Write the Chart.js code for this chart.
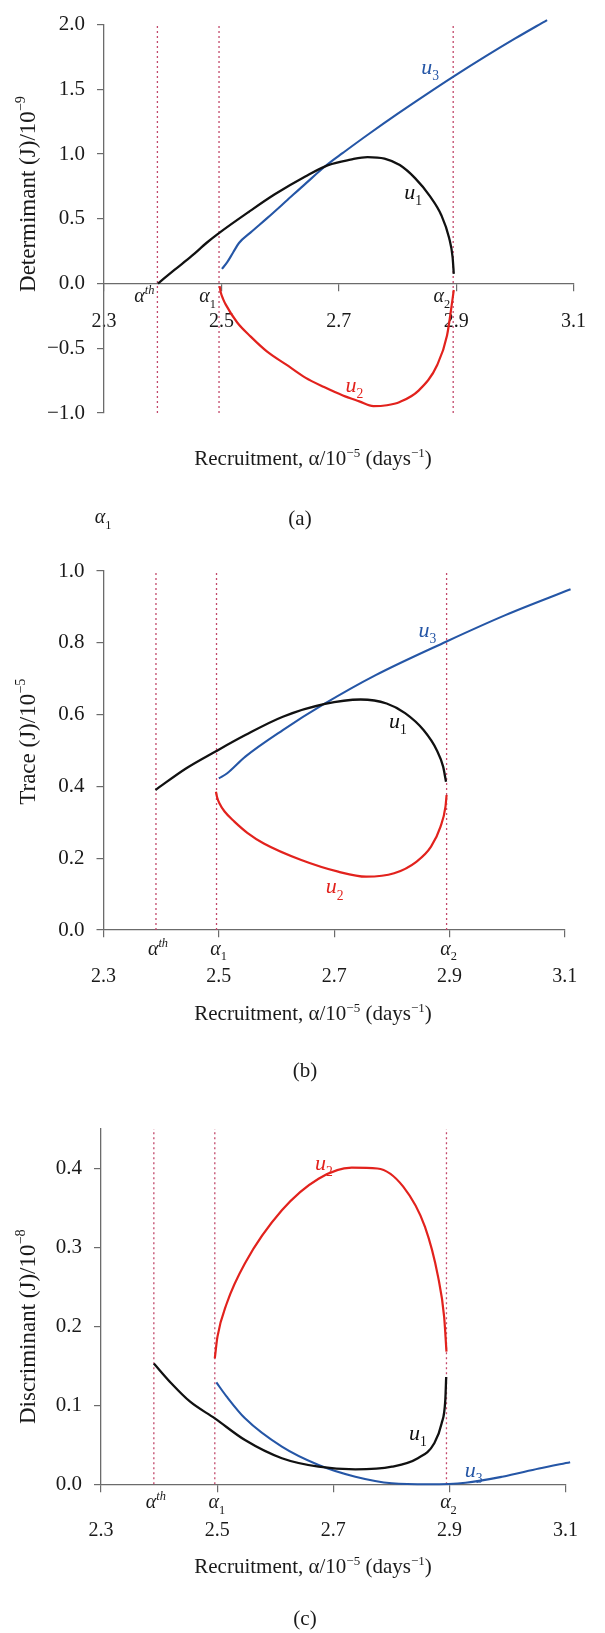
<!DOCTYPE html>
<html>
<head>
<meta charset="utf-8">
<script src="https://cdn.jsdelivr.net/npm/chart.js@4.4.1/dist/chart.umd.min.js"></script>
<style>
  html, body { margin: 0; padding: 0; background: #fff; }
  #pagina { position: relative; width: 605px; height: 1633px; background: #fff; }
  canvas { position: absolute; left: 0; }
</style>
</head>
<body>
<div id="pagina">
  <canvas id="graficoDet" width="605" height="540" style="top:0px"></canvas>
  <canvas id="graficoTrace" width="605" height="545" style="top:540px"></canvas>
  <canvas id="graficoDisc" width="605" height="548" style="top:1085px"></canvas>
</div>
<script>
// Eixo x comum (recrutamento, alpha/10^-5)
const xTicks = [2.3, 2.5, 2.7, 2.9, 3.1];
// alpha_th, alpha_1, alpha_2 (linhas pontilhadas)
const alphaMarcas = [2.391, 2.496, 2.895];

// --- (a) Determinante ---
const detYTicks = [-1.0, -0.5, 0.0, 0.5, 1.0, 1.5, 2.0];
const detU1Alpha = [2.392, 2.42, 2.45, 2.475, 2.497, 2.546, 2.591, 2.643, 2.682, 2.72, 2.749, 2.778, 2.804, 2.83, 2.855, 2.875, 2.888, 2.894, 2.896];
const detU1Val = [0.0, 0.105, 0.215, 0.315, 0.393, 0.551, 0.689, 0.827, 0.915, 0.957, 0.977, 0.965, 0.915, 0.814, 0.677, 0.526, 0.353, 0.203, 0.075];
const detU2Alpha = [2.497, 2.499, 2.503, 2.5075, 2.527, 2.55, 2.578, 2.61, 2.643, 2.675, 2.707, 2.735, 2.759, 2.782, 2.804, 2.836, 2.868, 2.8845, 2.893, 2.896];
const detU2Val = [-0.02, -0.07, -0.12, -0.163, -0.301, -0.41, -0.526, -0.625, -0.727, -0.80, -0.865, -0.91, -0.947, -0.94, -0.915, -0.827, -0.627, -0.401, -0.15, -0.05];
const detU3Alpha = [2.501, 2.51, 2.52, 2.53, 2.55, 2.578, 2.61, 2.643, 2.682, 2.707, 2.75, 2.80, 2.85, 2.896, 2.95, 3.0, 3.055];
const detU3Val = [0.113, 0.165, 0.24, 0.313, 0.395, 0.505, 0.635, 0.77, 0.925, 1.009, 1.151, 1.31, 1.463, 1.60, 1.754, 1.891, 2.035];

// --- (b) Traço ---
const trYTicks = [0.0, 0.2, 0.4, 0.6, 0.8, 1.0];
const trU1Alpha = [2.39, 2.443, 2.495, 2.546, 2.611, 2.682, 2.746, 2.791, 2.823, 2.855, 2.878, 2.889, 2.894];
const trU1Val = [0.39, 0.45, 0.498, 0.543, 0.594, 0.629, 0.642, 0.631, 0.604, 0.557, 0.501, 0.455, 0.413];
const trU2Alpha = [2.495, 2.497, 2.501, 2.51, 2.527, 2.55, 2.578, 2.643, 2.707, 2.7555, 2.804, 2.8425, 2.868, 2.8845, 2.893, 2.895];
const trU2Val = [0.385, 0.37, 0.353, 0.33, 0.302, 0.27, 0.241, 0.195, 0.1625, 0.1485, 0.158, 0.19, 0.232, 0.288, 0.343, 0.376];
const trU3Alpha = [2.5, 2.514, 2.546, 2.611, 2.682, 2.772, 2.894, 2.997, 3.11];
const trU3Val = [0.4225, 0.436, 0.483, 0.557, 0.629, 0.71, 0.803, 0.877, 0.949];

// --- (c) Discriminante ---
const discYTicks = [0.0, 0.1, 0.2, 0.3, 0.4];
const discU1Alpha = [2.391, 2.421, 2.4535, 2.496, 2.548, 2.6115, 2.6747, 2.738, 2.801, 2.8457, 2.874, 2.8866, 2.893, 2.8945];
const discU1Val = [0.153, 0.128, 0.1046, 0.0835, 0.056, 0.033, 0.0223, 0.019, 0.0223, 0.033, 0.052, 0.077, 0.107, 0.136];
const discU2Alpha = [2.496, 2.5006, 2.5165, 2.548, 2.6115, 2.6747, 2.7317, 2.776, 2.8205, 2.858, 2.8805, 2.891, 2.895];
const discU2Val = [0.1595, 0.187, 0.229, 0.28, 0.347, 0.387, 0.401, 0.40, 0.377, 0.326, 0.263, 0.212, 0.168];
const discU3Alpha = [2.4987, 2.5165, 2.548, 2.6115, 2.6747, 2.738, 2.801, 2.865, 2.928, 2.991, 3.0545, 3.108];
const discU3Val = [0.129, 0.111, 0.0835, 0.0476, 0.0244, 0.0096, 0.0013, 0.0, 0.002, 0.0096, 0.02, 0.028];

// Cores
const COR_PRETO = '#111111';
const COR_AZUL = '#2556a6';
const COR_VERMELHO = '#e2221d';
const COR_PONTILHADO = '#c2486a';
const COR_EIXO = '#6b6b6b';
const COR_TEXTO = '#1a1a1a';
const FONTE = '"Liberation Serif", "Times New Roman", serif';

function fonteCss(tam, italico) {
  return (italico ? 'italic ' : '') + tam.toFixed(1) + 'px ' + FONTE;
}

// partes: [[texto, estilo]] com estilo 'n', 'i', 'sub', 'sup', 'isup'
function escreverRico(ctx, partes, x, y, tam, cor, alinhar) {
  ctx.save();
  ctx.fillStyle = cor;
  ctx.textBaseline = 'alphabetic';
  ctx.textAlign = 'left';
  const medidas = partes.map(([txt, est]) => {
    const pequeno = est === 'sub' || est === 'sup' || est === 'isup';
    const f = fonteCss(pequeno ? tam * 0.62 : tam, est === 'i' || est === 'isup');
    ctx.font = f;
    return { txt, est, f, w: ctx.measureText(txt).width };
  });
  const total = medidas.reduce((s, m) => s + m.w, 0);
  let cx = alinhar === 'center' ? x - total / 2 : (alinhar === 'right' ? x - total : x);
  medidas.forEach(m => {
    let dy = 0;
    if (m.est === 'sub') dy = tam * 0.28;
    if (m.est === 'sup' || m.est === 'isup') dy = -tam * 0.4;
    ctx.font = m.f;
    ctx.fillText(m.txt, cx, y + dy);
    cx += m.w;
  });
  ctx.restore();
}

const tituloX = [['Recruitment, α/10', 'n'], ['−5', 'sup'], [' (days', 'n'], ['−1', 'sup'], [')', 'n']];
const rotuloAlpha = [
  [['α', 'i'], ['th', 'isup']],
  [['α', 'i'], ['1', 'sub']],
  [['α', 'i'], ['2', 'sub']]
];

function serie(xs, ys) {
  return xs.map((x, i) => ({ x: x, y: ys[i] }));
}

function criarPainel(canvasId, cfg) {
  const canvas = document.getElementById(canvasId);
  const W = canvas.width, H = canvas.height;
  const area = cfg.area;

  const pontilhados = alphaMarcas.map(a => ({
    data: [{ x: a, y: cfg.yMin }, { x: a, y: cfg.yMax }],
    borderColor: COR_PONTILHADO,
    borderWidth: 1.3,
    borderDash: [2, 3],
    pointRadius: 0,
    showLine: true,
    order: 2
  }));

  const curvas = cfg.curvas.map(c => ({
    data: serie(c.xs, c.ys),
    borderColor: c.cor,
    borderWidth: c.largura || 2.2,
    pointRadius: 0,
    showLine: true,
    cubicInterpolationMode: 'monotone',
    clip: false,
    order: 1
  }));

  const textos = {
    id: 'textos',
    afterDraw(chart) {
      const ctx = chart.ctx;
      const sx = chart.scales.x, sy = chart.scales.y;
      const eixoY = sy.getPixelForValue(0);

      // rótulos alpha
      alphaMarcas.forEach((a, i) => {
        const px = sx.getPixelForValue(a);
        if (cfg.alphaDireita) {
          escreverRico(ctx, rotuloAlpha[i], px - 3, eixoY + cfg.alphaDy, 20, COR_TEXTO, 'right');
        } else {
          escreverRico(ctx, rotuloAlpha[i], px + 2, eixoY + cfg.alphaDy, 20, COR_TEXTO, 'center');
        }
      });

      // rótulos u1, u2, u3
      cfg.rotulos.forEach(r => {
        const px = sx.getPixelForValue(r.x);
        const py = sy.getPixelForValue(r.y);
        escreverRico(ctx, [['u', 'i'], [r.n, 'sub']], px - 5, py + 5, 22, r.cor, 'left');
      });

      // título do eixo x e letra do painel
      escreverRico(ctx, tituloX, 313, cfg.tituloY + 7, 21, COR_TEXTO, 'center');
      escreverRico(ctx, [[cfg.letra, 'n']], cfg.letraX, cfg.letraY + 7, 21, COR_TEXTO, 'center');

      // título do eixo y (rotacionado)
      ctx.save();
      ctx.translate(27 + 7.5, cfg.tituloYc);
      ctx.rotate(-Math.PI / 2);
      escreverRico(ctx, cfg.tituloYPartes, 0, 0, 23, COR_TEXTO, 'center');
      ctx.restore();

      if (cfg.extra) cfg.extra(ctx);
    }
  };

  return new Chart(canvas.getContext('2d'), {
    type: 'scatter',
    data: { datasets: curvas.concat(pontilhados) },
    options: {
      responsive: false,
      animation: false,
      events: [],
      layout: {
        padding: { left: 0, top: area.top, right: W - area.right, bottom: H - area.bottom }
      },
      plugins: { legend: { display: false }, tooltip: { enabled: false } },
      scales: {
        x: {
          type: 'linear',
          min: 2.3,
          max: 3.1,
          position: { y: 0 },
          afterFit: s => { s.height = 0; },
          afterBuildTicks: s => { s.ticks = xTicks.map(v => ({ value: v })); },
          ticks: {
            color: COR_TEXTO,
            padding: cfg.xPad,
            maxRotation: 0,
            font: { family: FONTE, size: 20 },
            callback: v => v.toFixed(1)
          },
          grid: { drawOnChartArea: false, tickLength: 7, color: COR_EIXO, lineWidth: 1.2 },
          border: { color: COR_EIXO, width: 1.3 }
        },
        y: {
          type: 'linear',
          min: cfg.yMin,
          max: cfg.yMax,
          afterFit: s => { s.width = area.left; },
          afterBuildTicks: s => { s.ticks = cfg.yTicks.map(v => ({ value: v })); },
          ticks: {
            color: COR_TEXTO,
            padding: 12,
            font: { family: FONTE, size: 21 },
            callback: v => (v < 0 ? '−' : '') + Math.abs(v).toFixed(1)
          },
          grid: { drawOnChartArea: false, tickLength: 7, color: COR_EIXO, lineWidth: 1.2 },
          border: { color: COR_EIXO, width: 1.3 }
        }
      }
    },
    plugins: [textos]
  });
}

criarPainel('graficoDet', {
  area: { left: 104, right: 583.5, top: 14.5, bottom: 413 },
  yMin: -1.0, yMax: 2.0, yTicks: detYTicks,
  xPad: 19, alphaDy: 18.6, alphaDireita: true,
  curvas: [
    { xs: detU1Alpha, ys: detU1Val, cor: COR_PRETO, largura: 2.3 },
    { xs: detU2Alpha, ys: detU2Val, cor: COR_VERMELHO },
    { xs: detU3Alpha, ys: detU3Val, cor: COR_AZUL, largura: 2.1 }
  ],
  rotulos: [
    { n: '3', x: 2.849, y: 1.66, cor: COR_AZUL },
    { n: '1', x: 2.82, y: 0.692, cor: COR_PRETO },
    { n: '2', x: 2.72, y: -0.80, cor: COR_VERMELHO }
  ],
  tituloY: 458, letra: '(a)', letraX: 300, letraY: 518,
  tituloYc: 194,
  tituloYPartes: [['Determimant (J)/10', 'n'], ['−9', 'sup']],
  extra: ctx => escreverRico(ctx, [['α', 'i'], ['1', 'sub']], 103, 523, 20, COR_TEXTO, 'center')
});

criarPainel('graficoTrace', {
  area: { left: 103.5, right: 583.5, top: 31, bottom: 390 },
  yMin: 0.0, yMax: 1.0, yTicks: trYTicks,
  xPad: 27.7, alphaDy: 24.6, alphaDireita: false,
  curvas: [
    { xs: trU1Alpha, ys: trU1Val, cor: COR_PRETO, largura: 2.3 },
    { xs: trU2Alpha, ys: trU2Val, cor: COR_VERMELHO },
    { xs: trU3Alpha, ys: trU3Val, cor: COR_AZUL, largura: 2.1 }
  ],
  rotulos: [
    { n: '3', x: 2.855, y: 0.83, cor: COR_AZUL },
    { n: '1', x: 2.804, y: 0.576, cor: COR_PRETO },
    { n: '2', x: 2.694, y: 0.116, cor: COR_VERMELHO }
  ],
  tituloY: 473, letra: '(b)', letraX: 305, letraY: 530,
  tituloYc: 201.7,
  tituloYPartes: [['Trace (J)/10', 'n'], ['−5', 'sup']]
});

criarPainel('graficoDisc', {
  area: { left: 101, right: 587.5, top: 44, bottom: 399.3 },
  yMin: 0.0, yMax: 0.45, yTicks: discYTicks,
  xPad: 27, alphaDy: 23.7, alphaDireita: false,
  curvas: [
    { xs: discU1Alpha, ys: discU1Val, cor: COR_PRETO, largura: 2.3 },
    { xs: discU2Alpha, ys: discU2Val, cor: COR_VERMELHO },
    { xs: discU3Alpha, ys: discU3Val, cor: COR_AZUL, largura: 2.1 }
  ],
  rotulos: [
    { n: '2', x: 2.677, y: 0.404, cor: COR_VERMELHO },
    { n: '1', x: 2.839, y: 0.0624, cor: COR_PRETO },
    { n: '3', x: 2.935, y: 0.016, cor: COR_AZUL }
  ],
  tituloY: 481, letra: '(c)', letraX: 305, letraY: 533,
  tituloYc: 241.7,
  tituloYPartes: [['Discriminant (J)/10', 'n'], ['−8', 'sup']]
});
</script>
</body>
</html>
